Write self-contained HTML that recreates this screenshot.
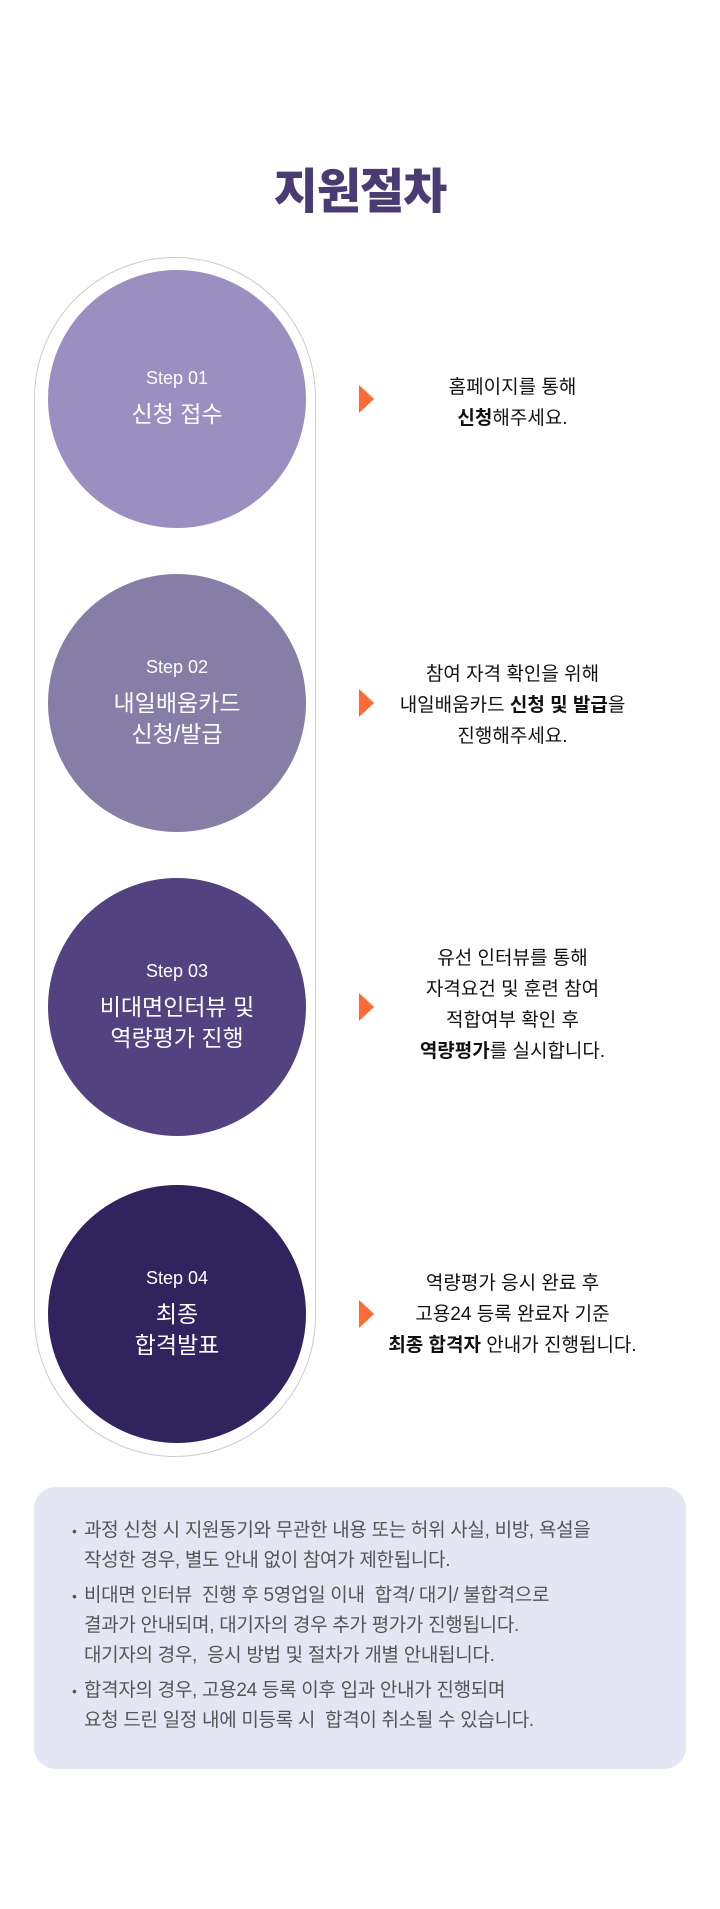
<!DOCTYPE html>
<html><head><meta charset="utf-8"><style>
*{margin:0;padding:0;box-sizing:border-box}
body{width:720px;height:1909px;background:#fff;position:relative;font-family:"Liberation Sans","Noto Sans CJK KR",sans-serif;overflow:hidden}
.title{position:absolute;top:152px;left:0;width:720px;text-align:center;font-size:48px;font-weight:900;color:#4a3c72;letter-spacing:-1px}
.pill{position:absolute;left:34px;top:257px;width:282px;height:1200px;border:1px solid #ccc;border-radius:141px}
.c{position:absolute;left:48px;width:258px;height:258px;border-radius:50%;color:#fff;display:flex;flex-direction:column;align-items:center;justify-content:center;text-align:center}
.c .s{font-size:18px;margin-bottom:10px}
.c .t{font-size:23px;line-height:31px}
.arr{position:absolute;left:359px;width:0;height:0;border-top:14px solid transparent;border-bottom:14px solid transparent;border-left:15px solid #ff6a35}
.d{position:absolute;left:380px;width:265px;text-align:center;font-size:19px;line-height:31px;color:#111}
.d b{font-weight:700}
.box{position:absolute;left:34px;top:1487px;width:652px;height:282px;background:#e5e6f3;border-radius:22px}
.box ul{list-style:none;position:absolute;left:38px;top:29px;font-size:19px;line-height:30px;color:#555;letter-spacing:-0.3px}
.box li{padding-left:12px;position:relative;margin-bottom:5px;white-space:nowrap}
.box li:before{content:"•";position:absolute;left:0;top:0;font-size:14px}
</style></head><body>
<div class="title">지원절차</div>
<div class="pill"></div>
<div class="c" style="top:270px;background:#9a8fc0"><div class="s">Step 01</div><div class="t">신청 접수</div></div>
<div class="c" style="top:574px;background:#877ea8"><div class="s">Step 02</div><div class="t">내일배움카드<br>신청/발급</div></div>
<div class="c" style="top:878px;background:#52427f"><div class="s">Step 03</div><div class="t">비대면인터뷰 및<br>역량평가 진행</div></div>
<div class="c" style="top:1185px;background:#30235e"><div class="s">Step 04</div><div class="t">최종<br>합격발표</div></div>

<div class="arr" style="top:385px"></div>
<div class="arr" style="top:689px"></div>
<div class="arr" style="top:993px"></div>
<div class="arr" style="top:1300px"></div>

<div class="d" style="top:372px">홈페이지를 통해<br><b>신청</b>해주세요.</div>
<div class="d" style="top:659px">참여 자격 확인을 위해<br>내일배움카드 <b>신청 및 발급</b>을<br>진행해주세요.</div>
<div class="d" style="top:943px">유선 인터뷰를 통해<br>자격요건 및 훈련 참여<br>적합여부 확인 후<br><b>역량평가</b>를 실시합니다.</div>
<div class="d" style="top:1268px">역량평가 응시 완료 후<br>고용24 등록 완료자 기준<br><b>최종 합격자</b> 안내가 진행됩니다.</div>

<div class="box"><ul>
<li>과정 신청 시 지원동기와 무관한 내용 또는 허위 사실, 비방, 욕설을<br>작성한 경우, 별도 안내 없이 참여가 제한됩니다.</li>
<li>비대면 인터뷰&nbsp; 진행 후 5영업일 이내&nbsp; 합격/ 대기/ 불합격으로<br>결과가 안내되며, 대기자의 경우 추가 평가가 진행됩니다.<br>대기자의 경우,&nbsp; 응시 방법 및 절차가 개별 안내됩니다.</li>
<li>합격자의 경우, 고용24 등록 이후 입과 안내가 진행되며<br>요청 드린 일정 내에 미등록 시&nbsp; 합격이 취소될 수 있습니다.</li>
</ul></div>
</body></html>
